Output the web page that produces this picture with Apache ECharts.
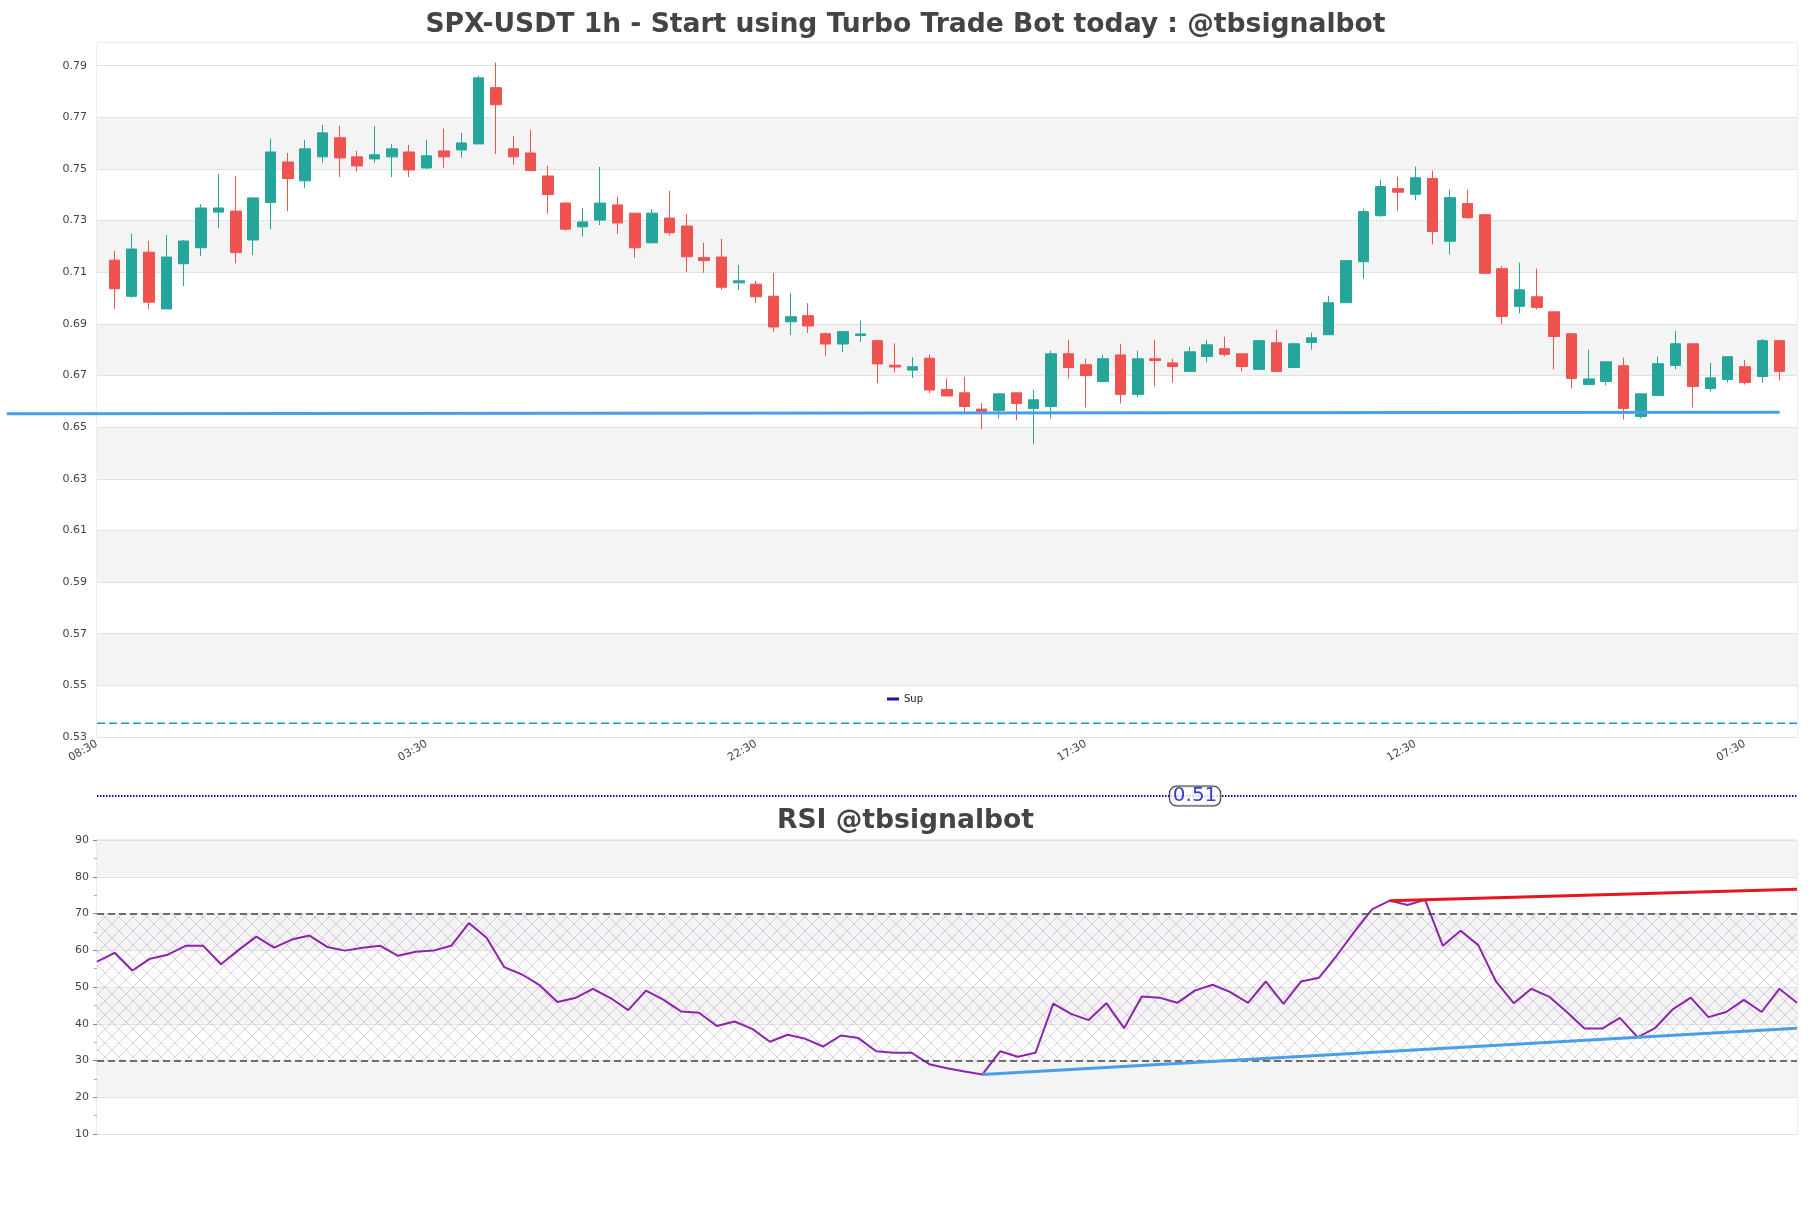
<!DOCTYPE html>
<html>
<head>
<meta charset="utf-8">
<script src="https://cdn.jsdelivr.net/npm/echarts@6/dist/echarts.min.js"></script>
<style>html,body{margin:0;padding:0;background:#fff}#c{width:1811px;height:1208px}</style>
</head>
<body>
<div id="c"></div>
<script>
// ---- data ----
// candles: [open, close, low, high], hourly starting 09:30
const candles = [
[0.7147,0.7036,0.6958,0.7182],[0.7007,0.7190,0.7001,0.7249],[0.7178,0.6984,0.6958,0.7221],[0.6958,0.7159,0.6958,0.7244],
[0.7133,0.7221,0.7047,0.7225],[0.7195,0.7349,0.7163,0.7364],[0.7333,0.7349,0.7271,0.7481],[0.7337,0.7176,0.7135,0.7473],
[0.7225,0.7388,0.7167,0.7388],[0.7370,0.7566,0.7267,0.7617],[0.7527,0.7463,0.7337,0.7562],[0.7454,0.7578,0.7427,0.7613],
[0.7547,0.7640,0.7524,0.7671],[0.7621,0.7543,0.7469,0.7667],[0.7547,0.7512,0.7489,0.7570],[0.7539,0.7555,0.7524,0.7667],
[0.7547,0.7578,0.7469,0.7597],[0.7566,0.7496,0.7469,0.7593],[0.7504,0.7551,0.7500,0.7613],[0.7570,0.7547,0.7504,0.7656],
[0.7574,0.7601,0.7543,0.7640],[0.7597,0.7853,0.7597,0.7861],[0.7815,0.7749,0.7558,0.7912],[0.7578,0.7547,0.7516,0.7628],
[0.7562,0.7494,0.7494,0.7652],[0.7473,0.7401,0.7327,0.7512],[0.7368,0.7267,0.7261,0.7372],[0.7276,0.7295,0.7238,0.7349],
[0.7302,0.7368,0.7283,0.7508],[0.7361,0.7291,0.7249,0.7392],[0.7329,0.7195,0.7156,0.7329],[0.7214,0.7329,0.7214,0.7345],
[0.7310,0.7253,0.7242,0.7415],[0.7279,0.7160,0.7102,0.7326],[0.7157,0.7145,0.7098,0.7214],[0.7159,0.7042,0.7032,0.7229],
[0.7059,0.7067,0.7032,0.7128],[0.7054,0.7005,0.6982,0.7066],[0.7007,0.6888,0.6869,0.7097],[0.6908,0.6928,0.6857,0.7019],
[0.6932,0.6892,0.6865,0.6980],[0.6862,0.6822,0.6776,0.6866],[0.6822,0.6870,0.6791,0.6874],[0.6855,0.6861,0.6830,0.6913],
[0.6835,0.6745,0.6671,0.6839],[0.6740,0.6733,0.6714,0.6825],[0.6721,0.6734,0.6690,0.6771],[0.6767,0.6644,0.6632,0.6782],
[0.6646,0.6621,0.6621,0.6689],[0.6633,0.6580,0.6557,0.6695],[0.6570,0.6558,0.6492,0.6593],[0.6565,0.6629,0.6534,0.6633],
[0.6633,0.6592,0.6527,0.6633],[0.6572,0.6606,0.6434,0.6645],[0.6580,0.6784,0.6534,0.6796],[0.6784,0.6731,0.6689,0.6839],
[0.6742,0.6700,0.6576,0.6765],[0.6677,0.6765,0.6677,0.6780],[0.6780,0.6627,0.6592,0.6823],[0.6627,0.6765,0.6615,0.6796],
[0.6765,0.6758,0.6658,0.6839],[0.6749,0.6735,0.6673,0.6765],[0.6716,0.6792,0.6716,0.6811],[0.6774,0.6819,0.6751,0.6839],
[0.6804,0.6782,0.6774,0.6850],[0.6784,0.6735,0.6716,0.6784],[0.6724,0.6835,0.6724,0.6835],[0.6827,0.6716,0.6716,0.6877],
[0.6731,0.6823,0.6731,0.6827],[0.6828,0.6846,0.6800,0.6866],[0.6858,0.6982,0.6858,0.7009],[0.6982,0.7145,0.6982,0.7145],
[0.7141,0.7335,0.7075,0.7346],[0.7319,0.7432,0.7315,0.7459],[0.7424,0.7410,0.7339,0.7470],[0.7402,0.7466,0.7379,0.7509],
[0.7463,0.7258,0.7208,0.7494],[0.7220,0.7389,0.7169,0.7420],[0.7366,0.7311,0.7307,0.7420],[0.7323,0.7096,0.7096,0.7323],
[0.7114,0.6929,0.6898,0.7125],[0.6968,0.7032,0.6941,0.7137],[0.7005,0.6964,0.6956,0.7114],[0.6947,0.6851,0.6724,0.6947],
[0.6862,0.6689,0.6650,0.6862],[0.6665,0.6687,0.6665,0.6800],[0.6677,0.6753,0.6662,0.6753],[0.6738,0.6572,0.6530,0.6769],
[0.6541,0.6629,0.6534,0.6629],[0.6623,0.6746,0.6623,0.6773],[0.6739,0.6823,0.6724,0.6873],[0.6823,0.6658,0.6576,0.6823],
[0.6650,0.6691,0.6638,0.6749],[0.6685,0.6773,0.6673,0.6773],[0.6734,0.6673,0.6665,0.6761],[0.6696,0.6835,0.6673,0.6842],
[0.6835,0.6716,0.6681,0.6835]
];
const rsiValues = [
56.9,59.3,54.5,57.7,58.8,61.2,61.2,56.2,60.1,63.7,60.7,62.9,64.0,60.9,59.9,60.7,61.2,58.5,59.6,59.9,
61.2,67.4,63.4,55.4,53.4,50.5,45.9,47.0,49.5,47.0,43.7,49.0,46.5,43.3,43.0,39.4,40.6,38.6,35.1,37.0,
35.9,33.8,36.8,36.1,32.5,32.1,32.1,29.0,27.9,27.0,26.2,32.5,31.0,32.1,45.5,42.7,41.0,45.6,38.8,47.4,
47.1,45.7,49.0,50.6,48.6,45.7,51.5,45.4,51.5,52.5,58.5,65.0,71.1,73.5,72.3,73.7,61.2,65.3,61.4,51.5,
45.6,49.5,47.4,43.2,38.7,38.7,41.6,36.3,38.9,44.0,47.1,41.8,43.2,46.5,43.2,49.5,45.7
];
const startTime = '08:30';          // first x-axis category
const labelEvery = 19;              // hours between x labels
const supportLine = [[-5.2, 0.6552], [97, 0.6558]];
const supDashed = [[0, 0.5353], [98, 0.5353]];
const levelLine = [[0, 0.5071], [98, 0.5071]];
const levelLabel = [[63.3, 0.5071, '0.51']];
const rsiResistance = [[73, 73.5], [96, 76.6]];
const rsiSupport = [[50, 26.2], [96, 38.8]];
const rsiLevels = [70, 30];
const rsiZone = [30, 70];

// ---- layout ----
const W = 1811, plotLeft = 97, plotRight = 14;
const priceMin = 0.53, priceMax = 0.7988;

// ---- build ----
const [h0, m0] = startTime.split(':').map(Number);
const categories = [];
for (let c = 0; c <= candles.length + 1; c++) {
  const h = (h0 + c) % 24;
  categories.push(String(h).padStart(2, '0') + ':' + String(m0).padStart(2, '0'));
}
const candleData = [['-', '-', '-', '-']].concat(candles);
const rsiCats = rsiValues.map((_, i) => i);
const nSteps = categories.length - 1;
const unitPx = (W - plotLeft - plotRight) / nSteps;
const wideMin = -plotLeft / unitPx;   // axis of the full-width overlay grid

// hatch pattern
const pat = document.createElement('canvas');
pat.width = 14; pat.height = 14;
const pc = pat.getContext('2d');
pc.strokeStyle = 'rgba(170,140,190,0.5)';
pc.lineWidth = 0.8;
pc.beginPath();
pc.moveTo(0, 0); pc.lineTo(14, 14);
pc.moveTo(14, 0); pc.lineTo(0, 14);
pc.stroke();

const font = 'DejaVu Sans';
const chart = echarts.init(document.getElementById('c'));
chart.setOption({
  animation: false,
  backgroundColor: '#ffffff',
  textStyle: { fontFamily: font },
  title: [
    { text: 'SPX-USDT 1h - Start using Turbo Trade Bot today : @tbsignalbot', left: 'center', top: 7,
      textStyle: { fontSize: 26.6, fontWeight: 'bold', color: '#444444', fontFamily: font } },
    { text: 'RSI @tbsignalbot', left: 'center', top: 803,
      textStyle: { fontSize: 26.6, fontWeight: 'bold', color: '#444444', fontFamily: font } }
  ],
  legend: {
    data: [{ name: 'Sup', icon: 'rect' }], left: 882, top: 689, itemWidth: 12, itemHeight: 3,
    textStyle: { fontSize: 10, color: '#222', fontFamily: font }
  },
  grid: [
    { left: plotLeft, right: plotRight, top: 43, height: 694, show: true, borderColor: '#dcdcdc', borderWidth: 1 },
    { left: plotLeft, right: plotRight, top: 840, height: 294, show: true, borderColor: '#dcdcdc', borderWidth: 1 },
    { left: 0, right: plotRight, top: 43, height: 694, show: false }
  ],
  xAxis: [
    { type: 'category', gridIndex: 0, data: categories, boundaryGap: false,
      axisLine: { show: false }, axisTick: { show: false }, splitLine: { show: false },
      axisLabel: { interval: labelEvery - 1, rotate: 30, fontSize: 11, color: '#444', margin: 6, fontFamily: font } },
    { type: 'value', gridIndex: 0, min: 0, max: nSteps, show: false },
    { type: 'category', gridIndex: 1, data: rsiCats, boundaryGap: false, show: false },
    { type: 'value', gridIndex: 2, min: wideMin, max: nSteps, show: false }
  ],
  yAxis: [
    { type: 'value', gridIndex: 0, min: priceMin, max: priceMax, interval: 0.02,
      axisLine: { show: false }, axisTick: { show: false },
      axisLabel: { formatter: v => v.toFixed(2), showMaxLabel: false, fontSize: 11, color: '#444', margin: 10, fontFamily: font },
      splitLine: { lineStyle: { color: '#e2e2e2', width: 1 } },
      splitArea: { show: true, areaStyle: { color: ['#ffffff', '#f4f4f4'] } } },
    { type: 'value', gridIndex: 1, min: 10, max: 90, interval: 10,
      axisLine: { show: false },
      axisTick: { show: true, length: 4, lineStyle: { color: '#888' } },
      minorTick: { show: true, splitNumber: 2, length: 3, lineStyle: { color: '#aaa' } },
      axisLabel: { fontSize: 11, color: '#444', margin: 8, fontFamily: font },
      splitLine: { lineStyle: { color: '#e2e2e2', width: 1 } },
      splitArea: { show: true, areaStyle: { color: ['#ffffff', '#f4f4f4'] } } },
    { type: 'value', gridIndex: 2, min: priceMin, max: priceMax, show: false }
  ],
  series: [
    { type: 'candlestick', name: 'SPX', xAxisIndex: 0, yAxisIndex: 0, data: candleData, barWidth: 11,
      itemStyle: { color: '#26a69a', color0: '#ef5350', borderColor: '#26a69a', borderColor0: '#ef5350', borderWidth: 1 },
      markArea: { silent: true, itemStyle: { color: '#ffffff' },
        data: [[{ yAxis: 0.7903 }, { yAxis: priceMax }]] } },
    { type: 'line', name: 'Sup', xAxisIndex: 1, yAxisIndex: 0, data: [], color: '#1515a8' },
    { type: 'line', name: 'supportLine', xAxisIndex: 3, yAxisIndex: 2, data: supportLine, clip: false,
      symbol: 'none', lineStyle: { color: '#4a9ee8', width: 3 }, z: 5 },
    { type: 'line', name: 'supDashed', xAxisIndex: 1, yAxisIndex: 0, data: supDashed, symbol: 'none',
      lineStyle: { color: '#1a98cc', width: 1.5, type: [8, 4] } },
    { type: 'line', name: 'level', xAxisIndex: 1, yAxisIndex: 0, data: levelLine, clip: false, symbol: 'none',
      lineStyle: { color: '#0c0cb8', width: 2, type: [1.5, 1.5] } },
    { type: 'scatter', name: 'levelLabel', xAxisIndex: 1, yAxisIndex: 0, data: levelLabel, clip: false,
      symbolSize: 0, z: 10,
      label: { show: true, position: 'inside', formatter: p => p.data[2], color: '#0a0ac8', fontSize: 20,
        fontFamily: font, backgroundColor: '#ffffff', borderColor: '#000', borderWidth: 1, borderRadius: 7,
        padding: [0, 3, -1, 3] } },
    { type: 'line', name: 'RSI', xAxisIndex: 2, yAxisIndex: 1, data: rsiValues, symbol: 'none',
      lineStyle: { color: '#8e24aa', width: 2 }, z: 4,
      markArea: { silent: true, itemStyle: { color: { image: pat, repeat: 'repeat' } },
        data: [[{ yAxis: rsiZone[0] }, { yAxis: rsiZone[1] }]] },
      markLine: { silent: true, symbol: 'none', label: { show: false },
        lineStyle: { color: '#444', width: 1.5, type: [7, 4] },
        data: rsiLevels.map(v => ({ yAxis: v })) } },
    { type: 'line', name: 'rsiRes', xAxisIndex: 2, yAxisIndex: 1, data: rsiResistance, symbol: 'none',
      lineStyle: { color: '#e8141e', width: 3 }, z: 5 },
    { type: 'line', name: 'rsiSup', xAxisIndex: 2, yAxisIndex: 1, data: rsiSupport, symbol: 'none',
      lineStyle: { color: '#4a9ee8', width: 3 }, z: 5 }
  ]
});
</script>
</body>
</html>
